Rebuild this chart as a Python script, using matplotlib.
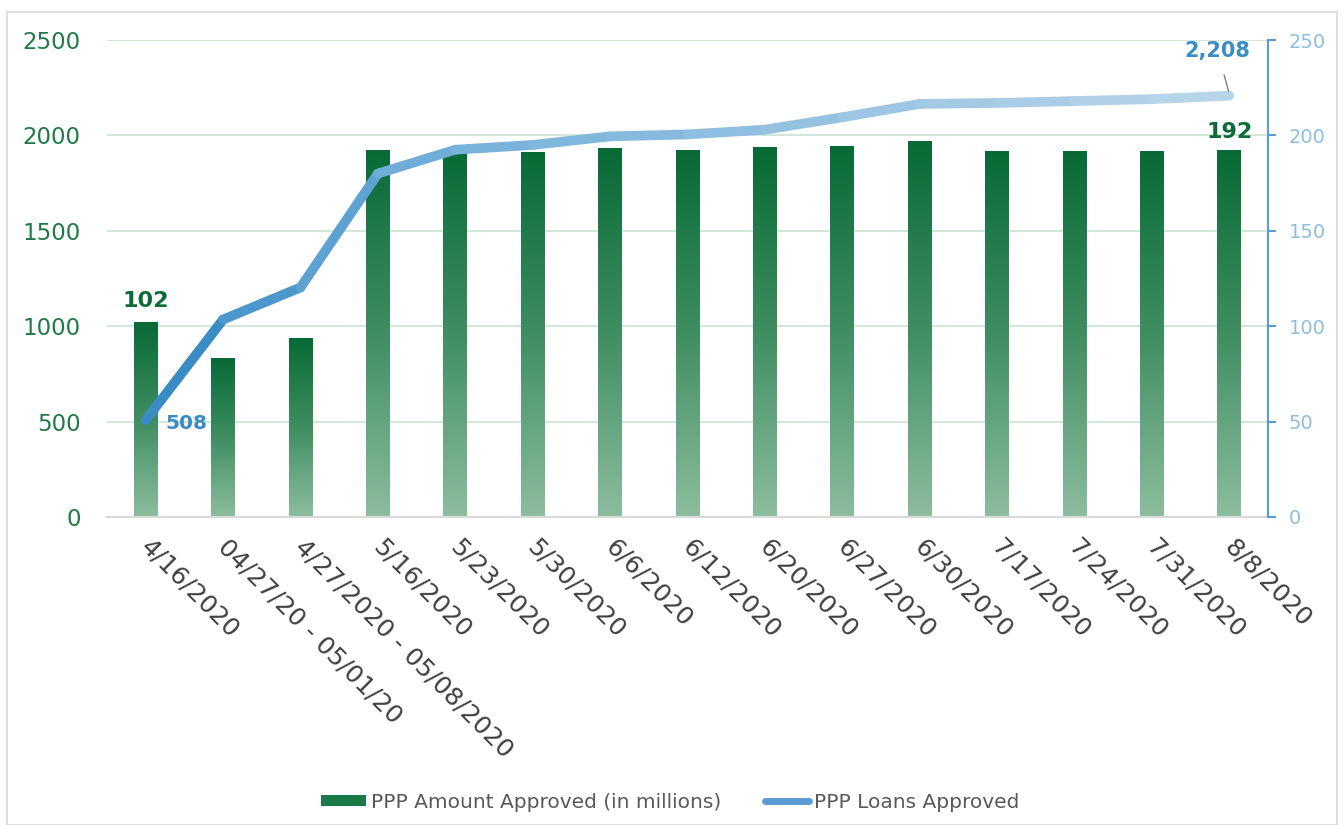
import numpy as np
import matplotlib
matplotlib.use("Agg")
import matplotlib.pyplot as plt
from matplotlib.collections import LineCollection
from matplotlib.colors import LinearSegmentedColormap, to_rgb
from matplotlib.patches import Rectangle
from matplotlib.lines import Line2D
from matplotlib.transforms import ScaledTranslation

categories = ["4/16/2020", "04/27/20 - 05/01/20", "4/27/2020 - 05/08/2020", "5/16/2020",
              "5/23/2020", "5/30/2020", "6/6/2020", "6/12/2020", "6/20/2020", "6/27/2020",
              "6/30/2020", "7/17/2020", "7/24/2020", "7/31/2020", "8/8/2020"]
amount = [1020, 832, 935, 1921, 1921, 1910, 1931, 1920, 1936, 1942, 1966, 1916, 1916, 1916, 1920]
loans = [50.8, 103.5, 120.3, 180, 192.5, 195, 199.5, 200.5, 203, 209.5, 216.5, 217, 218, 219, 220.8]
left_ticks = [0, 500, 1000, 1500, 2000, 2500]
right_ticks = [0, 50, 100, 150, 200, 250]

W, H = 1341, 825
fig = plt.figure(figsize=(W/100, H/100), dpi=100)
fig.patches.append(Rectangle((7/W, 0), (1337-7)/W, 1-12/H, transform=fig.transFigure,
                             fill=False, edgecolor="#d9d9d9", lw=1.2))
ax = fig.add_axes([107/W, 1-517/H, (1268-107)/W, (517-40)/H])
ax2 = ax.twinx()

x = np.arange(len(categories))
bw = 0.31
green_cmap = LinearSegmentedColormap.from_list("g", ["#8cbd9e", "#3f8e62", "#086a36"])
grad = np.linspace(0, 1, 256).reshape(-1, 1)
for xi, v in zip(x, amount):
    ax.imshow(grad, extent=(xi-bw/2, xi+bw/2, 0, v), origin="lower", cmap=green_cmap,
              aspect="auto", zorder=2, interpolation="bilinear")
ax.set_xlim(-0.5, len(categories)-0.5)
ax.set_ylim(0, 2500)
ax.set_aspect("auto")
ax.set_yticks(left_ticks)
ax.yaxis.grid(True, color="#c8e4d1", lw=1.2, zorder=0)
ax.set_axisbelow(True)
for s in ["top", "right", "left"]:
    ax.spines[s].set_visible(False)
ax.spines["bottom"].set_color("#d9d9d9")
ax.spines["bottom"].set_linewidth(1.5)
ax.tick_params(axis="y", length=0, labelsize=16.5, labelcolor="#1f7a47", pad=19)
ax.tick_params(axis="x", length=0, pad=13)
ax.set_xticks(x)
ax.set_xticklabels(categories, rotation=-45, ha="left", va="top", rotation_mode="anchor",
                   fontsize=18, color="#404040")
shift = ScaledTranslation(7/100, 0, fig.dpi_scale_trans)
for lab in ax.get_xticklabels():
    lab.set_transform(lab.get_transform() + shift)

# gradient line
c0, c1, c2 = np.array(to_rgb("#3a8cc4")), np.array(to_rgb("#74b0da")), np.array(to_rgb("#b7d5e9"))
pts = np.column_stack([x, loans])
segs = [pts[i:i+2] for i in range(len(pts)-1)]
cols = []
n = len(segs)
for i in range(n):
    t = i/(n-1)
    if t < 0.25:
        c = c0 + (c1-c0)*(t/0.25)
    else:
        c = c1 + (c2-c1)*((t-0.25)/0.75)
    cols.append(c)
lc = LineCollection(segs, colors=cols, linewidths=7, capstyle="round", joinstyle="round", zorder=3)
ax2.add_collection(lc)
ax2.set_ylim(0, 250)
ax2.set_yticks(right_ticks)
for s in ["top", "left", "bottom"]:
    ax2.spines[s].set_visible(False)
ax2.spines["right"].set_color("#5b9bd5")
ax2.spines["right"].set_linewidth(1.5)
ax2.tick_params(axis="y", direction="out", length=6, width=1.5, color="#5b9bd5",
                labelsize=14, labelcolor="#8dbde0", pad=9)

# annotations
ax.text(x[0], amount[0]+60, "102", ha="center", va="bottom", fontsize=16, fontweight="bold", color="#0d6b38", zorder=5)
ax.text(x[-1], amount[-1]+45, "192", ha="center", va="bottom", fontsize=16, fontweight="bold", color="#0d6b38", zorder=5)
ax2.text(x[0]+0.25, loans[0]-2, "508", ha="left", va="center", fontsize=14.5, fontweight="bold", color="#3a8cc4", zorder=5)
ax2.annotate("2,208", xy=(x[-1], loans[-1]+1), xytext=(x[-1]-0.15, 244), ha="center", va="center",
             fontsize=15, fontweight="bold", color="#3a8cc4", zorder=5,
             arrowprops=dict(arrowstyle="-", color="#7f7f7f", lw=1, shrinkA=8, shrinkB=2))

# legend
h1 = Rectangle((0, 0), 1, 1, facecolor="#1a7a47", edgecolor="none")
h2 = Line2D([0], [0], color="#5b9bd5", lw=5, solid_capstyle="round")
fig.legend([h1, h2], ["PPP Amount Approved (in millions)", "PPP Loans Approved"],
           loc="center", bbox_to_anchor=(0.5, 1-802/H), ncol=2, frameon=False,
           fontsize=14.5, labelcolor="#595959", handlelength=2.2, handleheight=0.45,
           columnspacing=2.2, handletextpad=0.25)

fig.savefig("out.png", dpi=100)
